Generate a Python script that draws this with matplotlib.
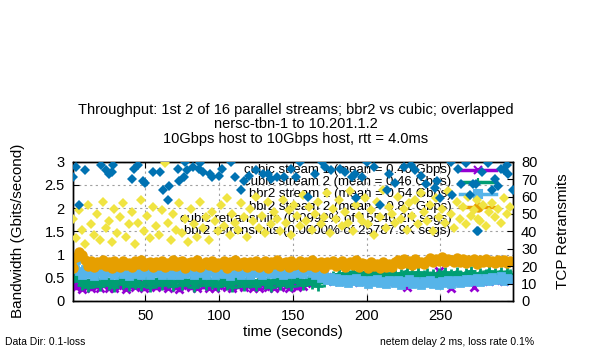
import numpy as np
import matplotlib
matplotlib.use("Agg")
import matplotlib.pyplot as plt

plt.rcParams['font.family'] = ['Liberation Sans', 'DejaVu Sans']

# ── Data ──────────────────────────────────────────────────
# throughput samples every 2 s, Gbits/second
tp_time = np.arange(1, 298, 2)

cubic_s1 = [.40, .30, .35, .26, .38, .33, .29, .36, .32, .27,
            .34, .38, .28, .36, .29, .35, .33, .37, .26, .34,
            .36, .31, .37, .33, .27, .35, .32, .38, .30, .34,
            .32, .37, .28, .34, .36, .31, .26, .35, .33, .38,
            .31, .35, .29, .37, .33, .36, .27, .34, .28, .35,
            .33, .37, .31, .35, .27, .36, .32, .38, .30, .34,
            .36, .29, .35, .27, .37, .33, .30, .36, .28, .35,
            .31, .36, .33, .29, .37, .34, .30, .35, .32, .38,
            .40, .45, .55, .62, .66, .60, .52, .48, .44, .46,
            .42, .47, .43, .49, .45, .41, .48, .44, .46, .42,
            .47, .52, .60, .66, .58, .49, .45, .43, .47, .41,
            .46, .42, .48, .30, .44, .47, .43, .49, .45, .42,
            .47, .44, .40, .55, .64, .58, .46, .43, .28, .45,
            .48, .43, .46, .42, .49, .45, .30, .47, .44, .50,
            .46, .43, .48, .45, .50, .47, .44, .49, .46]

cubic_s2 = [.50, .55, .44, .34, .46, .31, .43, .38, .47, .33,
            .41, .48, .35, .44, .30, .42, .47, .36, .45, .32,
            .43, .37, .49, .33, .40, .46, .31, .44, .38, .48,
            .34, .45, .39, .50, .32, .42, .47, .35, .43, .38,
            .46, .31, .44, .40, .49, .34, .42, .37, .47, .33,
            .40, .48, .35, .43, .31, .46, .38, .44, .33, .47,
            .39, .45, .32, .42, .48, .36, .44, .30, .46, .41,
            .35, .47, .38, .43, .33, .49, .40, .45, .34, .42,
            .46, .37, .44, .32, .48, .41, .50, .45, .53, .49,
            .58, .52, .61, .50, .57, .63, .51, .59, .54, .62,
            .50, .58, .53, .64, .51, .57, .61, .49, .56, .60,
            .52, .59, .55, .63, .50, .58, .54, .62, .51, .57,
            .60, .53, .58, .49, .61, .55, .63, .52, .59, .54,
            .62, .56, .51, .60, .54, .64, .57, .52, .61, .55,
            .59, .65, .54, .61, .57, .63, .55, .62, .58]

bbr2_s1 = [.92, .88, .64, .56, .68, .58, .66, .54, .63, .69,
           .57, .65, .60, .70, .55, .64, .68, .58, .62, .54,
           .67, .59, .70, .56, .63, .66, .55, .69, .60, .64,
           .55, .68, .61, .57, .70, .62, .56, .66, .59, .69,
           .63, .55, .67, .60, .70, .57, .64, .68, .56, .62,
           .69, .58, .65, .54, .66, .61, .70, .57, .63, .67,
           .56, .68, .60, .64, .55, .69, .62, .58, .71, .60,
           .66, .57, .70, .63, .59, .68, .61, .72, .58, .66,
           .69, .60, .56, .62, .50, .54, .46, .51, .43, .49,
           .41, .48, .44, .38, .47, .42, .50, .40, .46, .43,
           .37, .45, .41, .48, .39, .44, .36, .46, .42, .38,
           .45, .35, .43, .40, .47, .36, .44, .39, .34, .42,
           .38, .45, .36, .41, .34, .43, .39, .46, .37, .42,
           .46, .39, .44, .48, .40, .47, .43, .50, .41, .46,
           .49, .42, .51, .45, .48, .53, .44, .50, .47]

bbr2_s2 = [.70, .95, 1.05, .98, .88, .76, .86, .74, .84, .79,
           .88, .75, .83, .72, .86, .80, .74, .87, .78, .82,
           .73, .86, .79, .88, .75, .81, .85, .73, .84, .77,
           .87, .74, .82, .78, .88, .75, .83, .86, .72, .81,
           .84, .76, .88, .73, .80, .85, .77, .87, .74, .82,
           .79, .86, .72, .84, .77, .88, .75, .81, .85, .73,
           .83, .78, .87, .74, .81, .86, .72, .84, .79, .88,
           .75, .82, .85, .73, .87, .78, .80, .86, .74, .83,
           .77, .88, .74, .81, .85, .72, .83, .79, .87, .75,
           .82, .86, .73, .80, .84, .77, .88, .74, .81, .79,
           .72, .83, .76, .80, .71, .85, .74, .79, .73, .84,
           .88, .79, .91, .82, .86, .78, .90, .81, .85, .79,
           .87, .92, .83, .90, .86, .94, .84, .91, .88, .83,
           .92, .85, .90, .82, .89, .86, .91, .80, .88, .84,
           .90, .83, .87, .81, .89, .84, .88, .82, .86]

# cubic retransmits, every 2 s (right axis)
cubic_rtx_time = np.arange(1, 298, 2)
cubic_rtx = [47, 36, 52, 41, 33, 55, 44, 38, 50, 35,
             57, 42, 46, 34, 53, 39, 48, 56, 37, 44,
             51, 33, 45, 58, 40, 49, 36, 54, 43, 38,
             52, 79, 45, 35, 50, 41, 56, 39, 47, 34,
             53, 44, 37, 57, 42, 48, 35, 51, 46, 40,
             55, 43, 59, 38, 50, 45, 41, 56, 48, 37,
             53, 46, 60, 42, 49, 39, 57, 44, 51, 47,
             40, 58, 45, 52, 38, 55, 49, 43, 61, 46,
             54, 41, 50, 57, 44, 48, 62, 39, 53, 47,
             58, 43, 51, 45, 63, 40, 55, 49, 46, 59,
             44, 52, 38, 57, 48, 64, 42, 54, 50, 45,
             60, 47, 53, 41, 56, 49, 58, 44, 62, 51,
             46, 55, 40, 59, 48, 53, 45, 63, 50, 42,
             57, 47, 54, 44, 60, 49, 52, 58, 46, 55,
             43, 51, 56, 48, 53, 45, 59, 50, 54]

# bbr2 retransmits (only the samples that fall inside the plot are listed)
bbr2_rtx_time = [1, 3, 5, 9, 20, 23, 25, 27, 28, 41, 42, 45, 48, 50, 55, 60, 62, 65, 66, 72,
                 73, 76, 77, 78, 82, 86, 87, 89, 94, 95, 100, 102, 108, 111, 115, 117, 120,
                 125, 130, 133, 135, 139, 144, 149, 152, 155, 160, 165, 170, 172, 176, 182,
                 185, 190, 192, 193, 197, 200, 205, 209, 214, 215, 219, 225, 230, 233, 237,
                 240, 246, 248, 250, 257, 258, 262, 264, 267, 270, 272, 274, 275, 278, 282,
                 285, 287, 289, 291, 293, 295, 296, 299]
bbr2_rtx = [71, 77, 55, 75, 78, 75, 73, 74, 78, 70, 76, 78, 69, 68, 74, 74, 64, 58, 66, 76,
            69, 71, 80, 75, 77, 76, 79, 74, 73, 71, 72, 76, 80, 71, 64, 69, 72,
            75, 73, 73, 70, 71, 71, 76, 71, 80, 60, 73, 80, 77, 75, 76,
            74, 71, 73, 59, 71, 80, 77, 55, 64, 73, 68, 77, 78, 75, 72,
            67, 65, 69, 59, 80, 61, 76, 67, 79, 61, 67, 67, 40, 74, 79,
            64, 70, 66, 76, 75, 78, 73, 64]

labels = ["cubic stream 1 (mean = 0.40 Gbps)",
          "cubic stream 2 (mean = 0.46 Gbps)",
          "bbr2 stream 1 (mean = 0.54 Gbps)",
          "bbr2 stream 2 (mean = 0.81 Gbps)",
          "cubic retransmits (0.0992% of 15546.2K segs)",
          "bbr2 retransmits (0.0000% of 25787.9K segs)"]

PURPLE = "#9400d3"
GREEN  = "#009e73"
LBLUE  = "#56b4e9"
ORANGE = "#e69f00"
YELLOW = "#f0e442"
BLUE   = "#0072b2"
GRID   = "#a0a0a0"

# ── Figure ────────────────────────────────────────────────
fig = plt.figure(figsize=(6, 3.5), dpi=100)
ax = fig.add_axes([0.122, 0.14, 0.7325, 0.398])
ax2 = ax.twinx()

series = [(cubic_s1, PURPLE, "x", 6), (cubic_s2, GREEN, "+", 7),
          (bbr2_s1, LBLUE, "s", 5), (bbr2_s2, ORANGE, "o", 5.5)]
for vals, col, mk, ms in series:
    ax.plot(tp_time, vals, color=col, lw=3, marker=mk, ms=ms, mew=2, zorder=3)

ax2.plot(cubic_rtx_time, cubic_rtx, "D", color=YELLOW, ms=5.5, mew=0, zorder=3)
ax2.plot(bbr2_rtx_time, bbr2_rtx, "D", color=BLUE, ms=5.5, mew=0, zorder=3)

ax.set_xlim(1, 299)
ax.set_ylim(0, 3)
ax2.set_ylim(0, 80)
ax.set_xticks([50, 100, 150, 200, 250])
ax.set_yticks([0, 0.5, 1, 1.5, 2, 2.5, 3])
ax.set_yticklabels(["0", "0.5", "1", "1.5", "2", "2.5", "3"])
ax2.set_yticks(range(0, 81, 10))

ax.grid(color=GRID, linestyle=(0, (2, 3)), lw=0.8)
ax.set_axisbelow(True)
ax.tick_params(direction="in", top=True, right=False, length=4, labelsize=10.5, pad=6)
ax2.tick_params(direction="in", length=4, labelsize=10.5, pad=6)
for a in (ax, ax2):
    for s in a.spines.values():
        s.set_linewidth(1.0)
        s.set_color("black")

# key, gnuplot style: right-aligned text, sample on the right
for i, (lab, (col, mk)) in enumerate(zip(labels, [(PURPLE, "x"), (GREEN, "+"), (LBLUE, "s"),
                                                  (ORANGE, "o"), (YELLOW, "D"), (BLUE, "D")])):
    yk = 0.940 - i * 0.0875
    ax.text(0.86, yk, lab, transform=ax.transAxes, ha="right", va="center",
            fontsize=9.5, zorder=1)
    if i < 4:
        ax.plot([0.881, 0.961], [yk, yk], transform=ax.transAxes, color=col, lw=2.5,
                clip_on=False, zorder=2)
        ax.plot([0.921], [yk], transform=ax.transAxes, color=col, marker=mk, ms=6,
                mew=1.5, clip_on=False, zorder=2)
    else:
        ax.plot([0.921], [yk], transform=ax.transAxes, color=col, marker=mk, ms=5.5,
                mew=0, clip_on=False, zorder=2)

fig.text(296 / 600, 1 - 146 / 350,
         "Throughput: 1st 2 of 16 parallel streams; bbr2 vs cubic; overlapped\n"
         "nersc-tbn-1 to 10.201.1.2\n"
         "10Gbps host to 10Gbps host, rtt = 4.0ms",
         ha="center", va="bottom", fontsize=10.5, linespacing=1.05)
fig.text(18 / 600, 1 - 231 / 350, "Bandwidth (Gbits/second)", rotation=90,
         ha="center", va="center", fontsize=11)
fig.text(563 / 600, 1 - 231 / 350, "TCP Retransmits", rotation=90,
         ha="center", va="center", fontsize=11)
fig.text(293 / 600, 1 - 332 / 350, "time (seconds)", ha="center", va="center", fontsize=11)
fig.text(5 / 600, 1 - 342 / 350, "Data Dir: 0.1-loss", ha="left", va="center", fontsize=7.5)
fig.text(380 / 600, 1 - 342 / 350, "netem delay 2 ms, loss rate 0.1%", ha="left",
         va="center", fontsize=7.5)

fig.savefig("out.png", dpi=100)
